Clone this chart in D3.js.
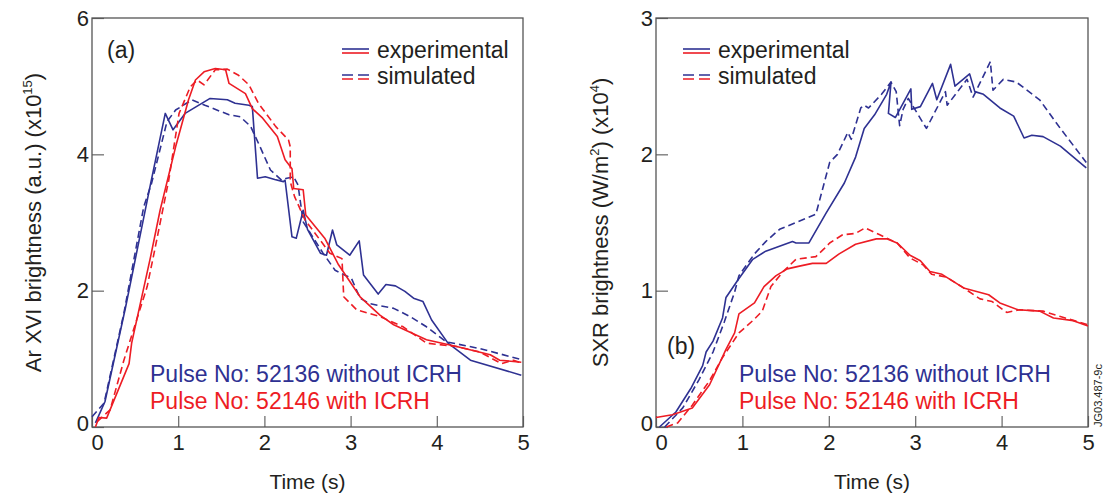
<!DOCTYPE html>
<html>
<head>
<meta charset="utf-8">
<script src="https://cdn.jsdelivr.net/npm/d3@7"></script>
<style>
  body { margin: 0; background: #fff; }
  text { font-family: "Liberation Sans", Arial, sans-serif; fill: #231f20; }
</style>
</head>
<body>
<div id="chart"></div>
<script>
// panel (a): Ar XVI brightness, [time s, value x1e15]
const arExp52136 = [[0.04,0.06],[0.15,0.37],[0.39,1.76],[0.68,3.57],[0.85,4.6],[0.94,4.36],[1.08,4.6],[1.37,4.82],[1.57,4.8],[1.66,4.75],[1.82,4.72],[1.86,4.7],[1.92,3.65],[2.01,3.67],[2.12,3.63],[2.22,3.6],[2.24,3.62],[2.32,2.79],[2.37,2.77],[2.45,3.18],[2.5,2.9],[2.65,2.55],[2.72,2.52],[2.79,2.89],[2.84,2.67],[2.99,2.52],[3.1,2.73],[3.15,2.23],[3.32,1.95],[3.41,2.09],[3.52,2.07],[3.63,1.99],[3.73,1.89],[3.84,1.84],[3.94,1.57],[4.13,1.23],[4.39,0.98],[4.98,0.76]];
const arSim52136 = [[0,0.15],[0.14,0.35],[0.37,1.67],[0.6,3.23],[0.69,3.57],[0.87,4.48],[0.97,4.65],[1.16,4.8],[1.31,4.72],[1.59,4.58],[1.72,4.55],[1.84,4.41],[1.95,4.11],[2.07,3.77],[2.2,3.62],[2.26,3.65],[2.34,3.67],[2.39,3.55],[2.45,3.01],[2.68,2.55],[2.82,2.3],[3.01,2.18],[3.11,1.89],[3.22,1.81],[3.5,1.74],[3.69,1.62],[3.88,1.47],[4.11,1.25],[4.5,1.15],[4.98,0.99]];
const arExp52146 = [[0.04,0.0],[0.08,0.14],[0.17,0.13],[0.43,0.93],[0.46,1.23],[0.68,2.5],[0.79,3.18],[0.97,4.11],[1.12,4.8],[1.2,5.09],[1.3,5.21],[1.43,5.26],[1.55,5.24],[1.59,5.04],[1.78,4.89],[1.86,4.67],[1.98,4.53],[2.15,4.26],[2.24,3.92],[2.32,3.79],[2.34,3.5],[2.45,3.48],[2.48,3.11],[2.7,2.77],[2.86,2.38],[3.11,1.91],[3.34,1.64],[3.5,1.5],[3.88,1.28],[4.23,1.18],[4.62,1.06],[4.73,0.98],[4.98,0.95]];
const arSim52146 = [[0.06,0.08],[0.21,0.25],[0.37,0.98],[0.48,1.42],[0.64,2.06],[0.72,2.55],[0.89,3.62],[1.01,4.6],[1.14,4.99],[1.22,5.09],[1.3,5.02],[1.43,5.24],[1.57,5.25],[1.7,5.16],[1.82,5.02],[1.93,4.75],[2.13,4.41],[2.28,4.21],[2.3,4.11],[2.3,3.6],[2.35,3.38],[2.47,3.04],[2.76,2.55],[2.9,2.47],[2.92,1.91],[3.07,1.72],[3.34,1.62],[3.61,1.47],[3.88,1.23],[4.23,1.18],[4.5,1.1],[4.75,0.93],[4.89,0.98],[4.98,0.94]];

// panel (b): SXR brightness, [time s, value x1e4 W/m2]
const sxrExp52136 = [[0.04,0],[0.23,0.11],[0.41,0.29],[0.54,0.45],[0.58,0.55],[0.66,0.63],[0.77,0.8],[0.81,0.95],[0.95,1.08],[1.12,1.23],[1.27,1.29],[1.58,1.36],[1.62,1.35],[1.77,1.35],[1.97,1.57],[2.18,1.79],[2.31,1.98],[2.41,2.19],[2.53,2.29],[2.67,2.44],[2.72,2.53],[2.69,2.3],[2.77,2.27],[2.95,2.48],[2.96,2.33],[3.06,2.35],[3.2,2.52],[3.25,2.4],[3.41,2.66],[3.46,2.5],[3.63,2.59],[3.69,2.46],[3.79,2.44],[3.98,2.34],[4.14,2.28],[4.26,2.12],[4.35,2.14],[4.48,2.13],[4.68,2.06],[4.98,1.9]];
const sxrSim52136 = [[0.1,0],[0.31,0.14],[0.5,0.35],[0.66,0.55],[0.79,0.77],[0.91,0.99],[0.96,1.11],[1.14,1.27],[1.27,1.36],[1.43,1.45],[1.62,1.5],[1.85,1.56],[2.01,1.94],[2.1,2.0],[2.22,2.16],[2.26,2.11],[2.37,2.34],[2.41,2.36],[2.46,2.34],[2.61,2.44],[2.72,2.53],[2.78,2.46],[2.82,2.21],[2.86,2.33],[2.92,2.41],[3.13,2.19],[3.35,2.46],[3.37,2.36],[3.6,2.55],[3.67,2.42],[3.87,2.68],[3.9,2.47],[4.02,2.55],[4.17,2.53],[4.44,2.4],[4.68,2.19],[4.98,1.94]];
const sxrExp52146 = [[0,0.07],[0.19,0.09],[0.42,0.14],[0.62,0.31],[0.81,0.57],[0.91,0.69],[0.96,0.83],[1.14,0.91],[1.25,1.03],[1.39,1.11],[1.52,1.16],[1.66,1.18],[1.81,1.2],[1.97,1.2],[2.12,1.27],[2.31,1.34],[2.55,1.38],[2.67,1.38],[2.79,1.35],[2.94,1.26],[3.06,1.22],[3.17,1.14],[3.31,1.12],[3.56,1.02],[3.85,0.97],[3.98,0.91],[4.19,0.86],[4.44,0.85],[4.6,0.8],[4.83,0.78],[5.0,0.74]];
const sxrSim52146 = [[0.12,0],[0.25,0.03],[0.42,0.16],[0.62,0.34],[0.77,0.51],[0.96,0.69],[1.12,0.78],[1.23,0.85],[1.33,1.03],[1.47,1.14],[1.62,1.23],[1.85,1.25],[1.95,1.31],[2.01,1.35],[2.16,1.41],[2.31,1.42],[2.42,1.46],[2.59,1.41],[2.79,1.35],[2.94,1.24],[3.09,1.19],[3.19,1.12],[3.36,1.1],[3.56,1.02],[3.75,0.94],[3.89,0.92],[4.06,0.84],[4.21,0.86],[4.48,0.85],[4.68,0.81],[5.0,0.75]];

const timeTicks = [0, 1, 2, 3, 4, 5];
const arTicks = [0, 2, 4, 6];
const sxrTicks = [0, 1, 2, 3];

const blue = '#2e3192';
const red = '#ed1c24';
const dash = '7,4';

const svg = d3.select('#chart').append('svg')
    .attr('width', 1108)
    .attr('height', 496);

function drawPanel(opts) {
    const x = d3.scaleLinear().domain([0, 5]).range([opts.left, opts.right]);
    const y = d3.scaleLinear().domain([0, opts.ymax]).range([opts.bottom, opts.top]);
    const g = svg.append('g');

    // x axis, ticks pointing in
    const xAxis = g.append('g')
        .attr('transform', `translate(0,${opts.bottom})`)
        .call(d3.axisBottom(x).tickValues(timeTicks).tickFormat(d3.format('d'))
            .tickSize(-11).tickSizeOuter(0).tickPadding(3));
    xAxis.selectAll('text').attr('font-size', 22).attr('dy', '0.9em')
        .attr('dx', d => d === 0 ? 5 : 0);

    const yAxis = g.append('g')
        .attr('transform', `translate(${opts.left},0)`)
        .call(d3.axisLeft(y).tickValues(opts.yticks).tickFormat(d3.format('d'))
            .tickSize(-12).tickSizeOuter(0).tickPadding(3));
    yAxis.selectAll('text').attr('font-size', 22)
        .attr('dy', d => d === 0 ? '0.15em' : '0.32em');

    g.selectAll('.domain').remove();
    g.selectAll('.tick line').attr('stroke', '#666').attr('stroke-width', 1.2);
    g.selectAll('.tick text').style('fill', '#231f20').attr('font-family', '"Liberation Sans", Arial, sans-serif');

    g.append('rect')
        .attr('x', opts.left).attr('y', opts.top)
        .attr('width', opts.right - opts.left).attr('height', opts.bottom - opts.top)
        .attr('fill', 'none').attr('stroke', '#555').attr('stroke-width', 1.3);

    const line = d3.line().x(d => x(d[0])).y(d => y(d[1]));
    opts.series.forEach(s => {
        g.append('path')
            .datum(s.data)
            .attr('d', line)
            .attr('fill', 'none')
            .attr('stroke', s.color)
            .attr('stroke-width', 1.6)
            .attr('stroke-dasharray', s.dashed ? dash : null)
            .attr('stroke-linejoin', 'round');
    });

    // legend
    const lx = opts.legendX;
    [['experimental', null, 58], ['simulated', dash, 84]].forEach(([label, d, base]) => {
        g.append('line').attr('x1', lx).attr('x2', lx + 27).attr('y1', base - 9).attr('y2', base - 9)
            .attr('stroke', blue).attr('stroke-width', 1.6).attr('stroke-dasharray', d ? '11,5' : null);
        g.append('line').attr('x1', lx).attr('x2', lx + 27).attr('y1', base - 5).attr('y2', base - 5)
            .attr('stroke', red).attr('stroke-width', 1.6).attr('stroke-dasharray', d ? '11,5' : null);
        g.append('text').attr('x', lx + 35).attr('y', base).attr('font-size', 23).text(label);
    });

    g.append('text').attr('x', opts.tagX).attr('y', opts.tagY).attr('font-size', 23).text(opts.tag);

    g.append('text').attr('x', opts.pulseX).attr('y', 382).attr('font-size', 23)
        .style('fill', blue).text('Pulse No: 52136 without ICRH');
    g.append('text').attr('x', opts.pulseX).attr('y', 409).attr('font-size', 23)
        .style('fill', red).text('Pulse No: 52146 with ICRH');

    g.append('text').attr('x', (opts.left + opts.right) / 2).attr('y', 489)
        .attr('text-anchor', 'middle').attr('font-size', 21).text('Time (s)');

    const yt = g.append('text')
        .attr('transform', `translate(${opts.titleX},${(opts.top + opts.bottom) / 2}) rotate(-90)`)
        .attr('text-anchor', 'middle').attr('font-size', 22);
    opts.title.forEach(p => {
        const t = yt.append('tspan').text(p.text);
        if (p.sup) t.attr('font-size', 13).attr('dy', -9);
        else if (p.after) t.attr('dy', 9);
    });
}

drawPanel({
    left: 92, right: 523, top: 18, bottom: 427, ymax: 6, yticks: arTicks,
    series: [
        { data: arExp52136, color: blue, dashed: false },
        { data: arSim52136, color: blue, dashed: true },
        { data: arExp52146, color: red, dashed: false },
        { data: arSim52146, color: red, dashed: true }
    ],
    legendX: 342, tag: '(a)', tagX: 107, tagY: 58, pulseX: 150, titleX: 41,
    title: [{ text: 'Ar XVI brightness (a.u.) (x10' }, { text: '15', sup: true }, { text: ')', after: true }]
});

drawPanel({
    left: 656, right: 1088, top: 18, bottom: 427, ymax: 3, yticks: sxrTicks,
    series: [
        { data: sxrExp52136, color: blue, dashed: false },
        { data: sxrSim52136, color: blue, dashed: true },
        { data: sxrExp52146, color: red, dashed: false },
        { data: sxrSim52146, color: red, dashed: true }
    ],
    legendX: 683, tag: '(b)', tagX: 667, tagY: 354, pulseX: 739, titleX: 608,
    title: [{ text: 'SXR brightness (W/m' }, { text: '2', sup: true }, { text: ') (x10', after: true }, { text: '4', sup: true }, { text: ')', after: true }]
});

svg.append('text')
    .attr('transform', 'translate(1102,427) rotate(-90)')
    .attr('font-size', 11).text('JG03.487-9c');
</script>
</body>
</html>
